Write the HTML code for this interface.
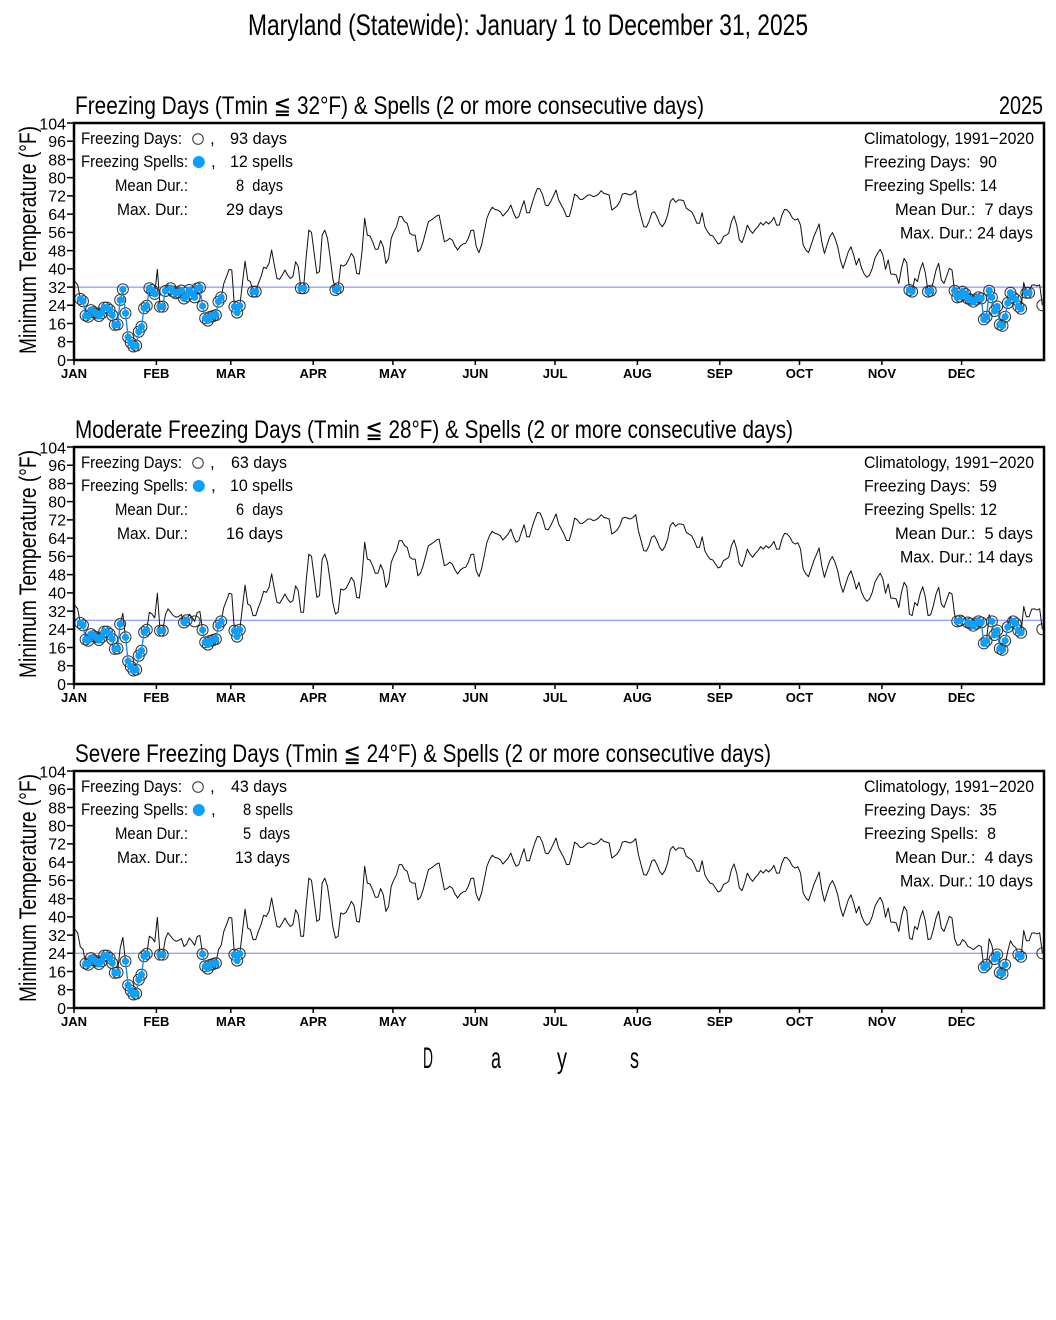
<!DOCTYPE html>
<html><head><meta charset="utf-8"><style>
html,body{margin:0;padding:0;background:#fff;}
svg{display:block;}
text{font-family:'Liberation Sans','DejaVu Sans',sans-serif;fill:#000;white-space:pre;}
.tk{font-size:16px;text-anchor:end;}
.mo{font-size:13px;font-weight:bold;text-anchor:middle;}
.lg{font-size:17px;}
</style></head><body>
<svg id="c" xmlns="http://www.w3.org/2000/svg" width="1056" height="1320" viewBox="0 0 1056 1320">
<rect width="1056" height="1320" fill="#fff"/>
<defs>
<clipPath id="k0"><rect x="74" y="123" width="970" height="237"/></clipPath>
<clipPath id="k1"><rect x="74" y="447" width="970" height="237"/></clipPath>
<clipPath id="k2"><rect x="74" y="771" width="970" height="237"/></clipPath>
</defs>
<g id="d0" clip-path="url(#k0)"></g>
<g id="d1" clip-path="url(#k1)"></g>
<g id="d2" clip-path="url(#k2)"></g>

<text x="248" y="35" font-size="30" textLength="560" lengthAdjust="spacingAndGlyphs">Maryland (Statewide): January 1 to December 31, 2025</text>

<text x="75" y="114" font-size="25" textLength="629" lengthAdjust="spacingAndGlyphs">Freezing Days (Tmin ≦ 32°F) &amp; Spells (2 or more consecutive days)</text>
<text x="999" y="114" font-size="25" textLength="44" lengthAdjust="spacingAndGlyphs">2025</text>
<text x="75" y="438" font-size="25" textLength="718" lengthAdjust="spacingAndGlyphs">Moderate Freezing Days (Tmin ≦ 28°F) &amp; Spells (2 or more consecutive days)</text>
<text x="75" y="762" font-size="25" textLength="696" lengthAdjust="spacingAndGlyphs">Severe Freezing Days (Tmin ≦ 24°F) &amp; Spells (2 or more consecutive days)</text>

<!-- Panel 1 axes/legend -->
<g id="ax1">
<rect x="74" y="123" width="970" height="237" fill="none" stroke="#000" stroke-width="2.5"/>
<path d="M67 360H74M67 341.77H74M67 323.54H74M67 305.3H74M67 287.07H74M67 268.84H74M67 250.61H74M67 232.38H74M67 214.14H74M67 195.91H74M67 177.68H74M67 159.45H74M67 141.22H74M67 122.98H74" stroke="#000" stroke-width="1.5"/>
<path d="M74 360V365M156.4 360V365M230.8 360V365M313.2 360V365M392.9 360V365M475.3 360V365M555 360V365M637.4 360V365M719.8 360V365M799.5 360V365M881.9 360V365M961.6 360V365" stroke="#000" stroke-width="1.5"/>
<text class="tk" x="66" y="365.8">0</text>
<text class="tk" x="66" y="347.6">8</text>
<text class="tk" x="66" y="329.3">16</text>
<text class="tk" x="66" y="311.1">24</text>
<text class="tk" x="66" y="292.9">32</text>
<text class="tk" x="66" y="274.6">40</text>
<text class="tk" x="66" y="256.4">48</text>
<text class="tk" x="66" y="238.2">56</text>
<text class="tk" x="66" y="219.9">64</text>
<text class="tk" x="66" y="201.7">72</text>
<text class="tk" x="66" y="183.5">80</text>
<text class="tk" x="66" y="165.3">88</text>
<text class="tk" x="66" y="147">96</text>
<text class="tk" x="66" y="129.5">104</text>
<text class="mo" x="74" y="378">JAN</text>
<text class="mo" x="156.4" y="378">FEB</text>
<text class="mo" x="230.8" y="378">MAR</text>
<text class="mo" x="313.2" y="378">APR</text>
<text class="mo" x="392.9" y="378">MAY</text>
<text class="mo" x="475.3" y="378">JUN</text>
<text class="mo" x="555" y="378">JUL</text>
<text class="mo" x="637.4" y="378">AUG</text>
<text class="mo" x="719.8" y="378">SEP</text>
<text class="mo" x="799.5" y="378">OCT</text>
<text class="mo" x="881.9" y="378">NOV</text>
<text class="mo" x="961.6" y="378">DEC</text>
<text transform="translate(36,240) rotate(-90)" x="-114" y="0" font-size="24" textLength="228" lengthAdjust="spacingAndGlyphs">Minimum Temperature (°F)</text>
<text class="lg" x="81" y="144" textLength="101" lengthAdjust="spacingAndGlyphs">Freezing Days:</text>
<circle cx="198" cy="139" r="5.3" fill="none" stroke="#333" stroke-width="1"/>
<text class="lg" x="210" y="144">,</text>
<text class="lg" x="230" y="144" textLength="57" lengthAdjust="spacingAndGlyphs">93 days</text>
<text class="lg" x="81" y="167" textLength="107" lengthAdjust="spacingAndGlyphs">Freezing Spells:</text>
<circle cx="198.8" cy="162" r="6" fill="#0aa0ff"/>
<text class="lg" x="211" y="167">,</text>
<text class="lg" x="230" y="167" textLength="63" lengthAdjust="spacingAndGlyphs">12 spells</text>
<text class="lg" x="115" y="191" textLength="73" lengthAdjust="spacingAndGlyphs">Mean Dur.:</text>
<text class="lg" x="236" y="191" textLength="47" lengthAdjust="spacingAndGlyphs">8  days</text>
<text class="lg" x="117" y="215" textLength="71" lengthAdjust="spacingAndGlyphs">Max. Dur.:</text>
<text class="lg" x="226" y="215" textLength="57" lengthAdjust="spacingAndGlyphs">29 days</text>
<text class="lg" x="864" y="144" textLength="170" lengthAdjust="spacingAndGlyphs">Climatology, 1991−2020</text>
<text class="lg" x="864" y="167.5" textLength="133" lengthAdjust="spacingAndGlyphs">Freezing Days:  90</text>
<text class="lg" x="864" y="191" textLength="133" lengthAdjust="spacingAndGlyphs">Freezing Spells: 14</text>
<text class="lg" x="895" y="215" textLength="138" lengthAdjust="spacingAndGlyphs">Mean Dur.:  7 days</text>
<text class="lg" x="900" y="238.5" textLength="133" lengthAdjust="spacingAndGlyphs">Max. Dur.: 24 days</text>
</g>

<!-- Panel 2 -->
<g transform="translate(0,324)">
<rect x="74" y="123" width="970" height="237" fill="none" stroke="#000" stroke-width="2.5"/>
<path d="M67 360H74M67 341.77H74M67 323.54H74M67 305.3H74M67 287.07H74M67 268.84H74M67 250.61H74M67 232.38H74M67 214.14H74M67 195.91H74M67 177.68H74M67 159.45H74M67 141.22H74M67 122.98H74" stroke="#000" stroke-width="1.5"/>
<path d="M74 360V365M156.4 360V365M230.8 360V365M313.2 360V365M392.9 360V365M475.3 360V365M555 360V365M637.4 360V365M719.8 360V365M799.5 360V365M881.9 360V365M961.6 360V365" stroke="#000" stroke-width="1.5"/>
<text class="tk" x="66" y="365.8">0</text>
<text class="tk" x="66" y="347.6">8</text>
<text class="tk" x="66" y="329.3">16</text>
<text class="tk" x="66" y="311.1">24</text>
<text class="tk" x="66" y="292.9">32</text>
<text class="tk" x="66" y="274.6">40</text>
<text class="tk" x="66" y="256.4">48</text>
<text class="tk" x="66" y="238.2">56</text>
<text class="tk" x="66" y="219.9">64</text>
<text class="tk" x="66" y="201.7">72</text>
<text class="tk" x="66" y="183.5">80</text>
<text class="tk" x="66" y="165.3">88</text>
<text class="tk" x="66" y="147">96</text>
<text class="tk" x="66" y="129.5">104</text>
<text class="mo" x="74" y="378">JAN</text>
<text class="mo" x="156.4" y="378">FEB</text>
<text class="mo" x="230.8" y="378">MAR</text>
<text class="mo" x="313.2" y="378">APR</text>
<text class="mo" x="392.9" y="378">MAY</text>
<text class="mo" x="475.3" y="378">JUN</text>
<text class="mo" x="555" y="378">JUL</text>
<text class="mo" x="637.4" y="378">AUG</text>
<text class="mo" x="719.8" y="378">SEP</text>
<text class="mo" x="799.5" y="378">OCT</text>
<text class="mo" x="881.9" y="378">NOV</text>
<text class="mo" x="961.6" y="378">DEC</text>
<text transform="translate(36,240) rotate(-90)" x="-114" y="0" font-size="24" textLength="228" lengthAdjust="spacingAndGlyphs">Minimum Temperature (°F)</text>
<text class="lg" x="81" y="144" textLength="101" lengthAdjust="spacingAndGlyphs">Freezing Days:</text>
<circle cx="198" cy="139" r="5.3" fill="none" stroke="#333" stroke-width="1"/>
<text class="lg" x="210" y="144">,</text>
<text class="lg" x="231" y="144" textLength="56" lengthAdjust="spacingAndGlyphs">63 days</text>
<text class="lg" x="81" y="167" textLength="107" lengthAdjust="spacingAndGlyphs">Freezing Spells:</text>
<circle cx="198.8" cy="162" r="6" fill="#0aa0ff"/>
<text class="lg" x="211" y="167">,</text>
<text class="lg" x="230" y="167" textLength="63" lengthAdjust="spacingAndGlyphs">10 spells</text>
<text class="lg" x="115" y="191" textLength="73" lengthAdjust="spacingAndGlyphs">Mean Dur.:</text>
<text class="lg" x="236" y="191" textLength="47" lengthAdjust="spacingAndGlyphs">6  days</text>
<text class="lg" x="117" y="215" textLength="71" lengthAdjust="spacingAndGlyphs">Max. Dur.:</text>
<text class="lg" x="226" y="215" textLength="57" lengthAdjust="spacingAndGlyphs">16 days</text>
<text class="lg" x="864" y="144" textLength="170" lengthAdjust="spacingAndGlyphs">Climatology, 1991−2020</text>
<text class="lg" x="864" y="167.5" textLength="133" lengthAdjust="spacingAndGlyphs">Freezing Days:  59</text>
<text class="lg" x="864" y="191" textLength="133" lengthAdjust="spacingAndGlyphs">Freezing Spells: 12</text>
<text class="lg" x="895" y="215" textLength="138" lengthAdjust="spacingAndGlyphs">Mean Dur.:  5 days</text>
<text class="lg" x="900" y="238.5" textLength="133" lengthAdjust="spacingAndGlyphs">Max. Dur.: 14 days</text>
</g>

<!-- Panel 3 -->
<g transform="translate(0,648)">
<rect x="74" y="123" width="970" height="237" fill="none" stroke="#000" stroke-width="2.5"/>
<path d="M67 360H74M67 341.77H74M67 323.54H74M67 305.3H74M67 287.07H74M67 268.84H74M67 250.61H74M67 232.38H74M67 214.14H74M67 195.91H74M67 177.68H74M67 159.45H74M67 141.22H74M67 122.98H74" stroke="#000" stroke-width="1.5"/>
<path d="M74 360V365M156.4 360V365M230.8 360V365M313.2 360V365M392.9 360V365M475.3 360V365M555 360V365M637.4 360V365M719.8 360V365M799.5 360V365M881.9 360V365M961.6 360V365" stroke="#000" stroke-width="1.5"/>
<text class="tk" x="66" y="365.8">0</text>
<text class="tk" x="66" y="347.6">8</text>
<text class="tk" x="66" y="329.3">16</text>
<text class="tk" x="66" y="311.1">24</text>
<text class="tk" x="66" y="292.9">32</text>
<text class="tk" x="66" y="274.6">40</text>
<text class="tk" x="66" y="256.4">48</text>
<text class="tk" x="66" y="238.2">56</text>
<text class="tk" x="66" y="219.9">64</text>
<text class="tk" x="66" y="201.7">72</text>
<text class="tk" x="66" y="183.5">80</text>
<text class="tk" x="66" y="165.3">88</text>
<text class="tk" x="66" y="147">96</text>
<text class="tk" x="66" y="129.5">104</text>
<text class="mo" x="74" y="378">JAN</text>
<text class="mo" x="156.4" y="378">FEB</text>
<text class="mo" x="230.8" y="378">MAR</text>
<text class="mo" x="313.2" y="378">APR</text>
<text class="mo" x="392.9" y="378">MAY</text>
<text class="mo" x="475.3" y="378">JUN</text>
<text class="mo" x="555" y="378">JUL</text>
<text class="mo" x="637.4" y="378">AUG</text>
<text class="mo" x="719.8" y="378">SEP</text>
<text class="mo" x="799.5" y="378">OCT</text>
<text class="mo" x="881.9" y="378">NOV</text>
<text class="mo" x="961.6" y="378">DEC</text>
<text transform="translate(36,240) rotate(-90)" x="-114" y="0" font-size="24" textLength="228" lengthAdjust="spacingAndGlyphs">Minimum Temperature (°F)</text>
<text class="lg" x="81" y="144" textLength="101" lengthAdjust="spacingAndGlyphs">Freezing Days:</text>
<circle cx="198" cy="139" r="5.3" fill="none" stroke="#333" stroke-width="1"/>
<text class="lg" x="210" y="144">,</text>
<text class="lg" x="231" y="144" textLength="56" lengthAdjust="spacingAndGlyphs">43 days</text>
<text class="lg" x="81" y="167" textLength="107" lengthAdjust="spacingAndGlyphs">Freezing Spells:</text>
<circle cx="198.8" cy="162" r="6" fill="#0aa0ff"/>
<text class="lg" x="211" y="167">,</text>
<text class="lg" x="243" y="167" textLength="50" lengthAdjust="spacingAndGlyphs">8 spells</text>
<text class="lg" x="115" y="191" textLength="73" lengthAdjust="spacingAndGlyphs">Mean Dur.:</text>
<text class="lg" x="243" y="191" textLength="47" lengthAdjust="spacingAndGlyphs">5  days</text>
<text class="lg" x="117" y="215" textLength="71" lengthAdjust="spacingAndGlyphs">Max. Dur.:</text>
<text class="lg" x="235" y="215" textLength="55" lengthAdjust="spacingAndGlyphs">13 days</text>
<text class="lg" x="864" y="144" textLength="170" lengthAdjust="spacingAndGlyphs">Climatology, 1991−2020</text>
<text class="lg" x="864" y="167.5" textLength="133" lengthAdjust="spacingAndGlyphs">Freezing Days:  35</text>
<text class="lg" x="864" y="191" textLength="132" lengthAdjust="spacingAndGlyphs">Freezing Spells:  8</text>
<text class="lg" x="895" y="215" textLength="138" lengthAdjust="spacingAndGlyphs">Mean Dur.:  4 days</text>
<text class="lg" x="900" y="238.5" textLength="133" lengthAdjust="spacingAndGlyphs">Max. Dur.: 10 days</text>
</g>

<text x="423" y="1068" font-size="30" textLength="10" lengthAdjust="spacingAndGlyphs">D</text>
<text x="491" y="1068" font-size="30" textLength="10" lengthAdjust="spacingAndGlyphs">a</text>
<text x="557" y="1068" font-size="30" textLength="10" lengthAdjust="spacingAndGlyphs">y</text>
<text x="630" y="1068" font-size="30" textLength="9" lengthAdjust="spacingAndGlyphs">s</text>
</svg>
<script>
(function(){
var T=[34.5,33,26.8,25.8,19.5,19,21.9,21,20.5,19.3,20.5,23,23,22,19.7,15.4,15.6,26.3,31,20.5,
10,7.6,5.9,6.3,12.4,14.6,22.7,23.8,31.5,30.7,29,39.8,23.4,23.4,30.3,33,31.5,30,29.3,29.6,
30.5,27,28,30.7,29.3,27.5,31.4,31.8,23.7,18.3,17.3,19,19.3,19.7,25.6,27.5,33.6,36.6,39.8,39.5,
23.4,20.8,23.8,33.6,43.4,35.1,34.4,30,30,33.6,36.6,40.7,40.2,42.4,48.3,41.7,35.8,35.4,37.3,39.5,
37.3,35.8,36.6,43.1,41,31.5,31.5,45.3,57,56,46.8,38,38.8,54.8,57,53.4,45.3,35.8,30.7,31.5,
41.7,41.2,42,44.2,46.8,45,38,37.7,47.5,62.2,54.8,54.4,51.9,48.6,48.6,52.4,49.7,42.4,44.6,53.4,
56.3,58.5,62.9,62.9,60.7,60,55.6,54.8,54.8,47.5,48.6,51.9,56.3,60.7,61.4,62.2,63.2,63.6,57.8,51.9,
52.4,53.4,52.6,50,48.3,50,50.9,51.2,53.4,56.8,57,49.7,47.1,50.5,56.3,62.2,65.1,67,66.1,65.8,
65.1,63.2,64.4,65.8,68,64.6,62.2,62.9,66.6,69.9,64.6,64.6,68.7,72.3,75.3,75,72.3,68,67.6,69.5,
72,74.6,70.2,68,65.8,62.9,63,67.3,72.8,72,70.5,70.5,71.4,72.4,72.4,71.7,72,72.8,74.3,73.1,
72.8,72.4,65.8,66.6,67.6,69.5,72.8,73.1,72.8,72.4,73.1,74.3,67.3,62.9,58.5,58.3,60.7,64.4,65.1,62.9,
60,58.5,60.3,63.6,69.5,70.9,69.2,70.2,70.2,69.9,66.6,65.8,65.1,62.9,60,60,64.6,58.5,56.3,54.8,
54.4,52.7,50.9,51.5,54.1,54.8,55.6,60.7,63.2,59.2,52.7,51.5,54.8,59.2,57,55.6,57.3,58.5,60.3,59.2,
60.7,59.7,60.7,62.6,59.2,59.2,63.6,66.1,65.8,64.4,62.2,61.4,62,59.2,50.5,48.3,47.1,50.5,54.1,56.8,
59.7,51.9,46.8,50.5,54.1,55.9,53.4,49.7,43.9,40.2,43.9,47.5,49.7,46.1,41.7,44.6,40.2,37.7,36.3,37.3,
40.2,44.6,46.8,48.6,46.1,39.8,43.9,37.7,37.7,37.3,33.6,40.2,44.6,42.7,30.7,30,35.8,34.4,39.5,42.7,
38,30,30.4,34.4,39.5,42.4,35.1,33.6,36.9,40.2,39.5,30.4,27.5,27.8,30,29,27,26.5,25.6,26.5,
27.5,27,17.8,19,30.4,27.5,21.5,23.5,15.6,15,19,25,29.5,27.5,26.5,23.5,22.5,34,29.5,29.5,
32.8,33,32.5,33,24];
var NS='http://www.w3.org/2000/svg';
function el(n,a,p){var e=document.createElementNS(NS,n);for(var k in a)e.setAttribute(k,a[k]);p.appendChild(e);return e;}
var tops=[123,447,771],th=[32,28,24];
function X(d){return 75+d*2.6575;}
for(var p=0;p<3;p++){
  var g=document.getElementById('d'+p),bot=tops[p]+237;
  var Y=function(t){return bot-t*2.279;};
  var ty=Y(th[p]);
  el('line',{x1:74,x2:1044,y1:ty,y2:ty,stroke:'#6f82ff','stroke-width':1},g);
  var pts=[];
  for(var d=0;d<T.length;d++)pts.push(X(d).toFixed(2)+','+Y(T[d]).toFixed(2));
  el('polyline',{points:pts.join(' '),fill:'none',stroke:'#111','stroke-width':1,'stroke-linejoin':'round'},g);
  var fz=[],sp=[],n=T.length;
  for(d=0;d<n;d++)fz.push(T[d]<=th[p]);
  for(d=0;d<n;d++)sp.push(fz[d]&&((d>0&&fz[d-1])||(d<n-1&&fz[d+1])));
  for(d=0;d<n;d++)if(fz[d])el('circle',{cx:X(d),cy:Y(T[d]),r:5.5,fill:'none',stroke:'#333','stroke-width':1},g);
  for(d=0;d<n-1;d++)if(fz[d]&&fz[d+1])el('line',{x1:X(d),y1:Y(T[d]),x2:X(d+1),y2:Y(T[d+1]),stroke:'#1e8fe0','stroke-width':1.3},g);
  for(d=0;d<n;d++)if(sp[d])el('circle',{cx:X(d),cy:Y(T[d]),r:3.6,fill:'#0aa0ff'},g);
}
})();
</script>
</body></html>
